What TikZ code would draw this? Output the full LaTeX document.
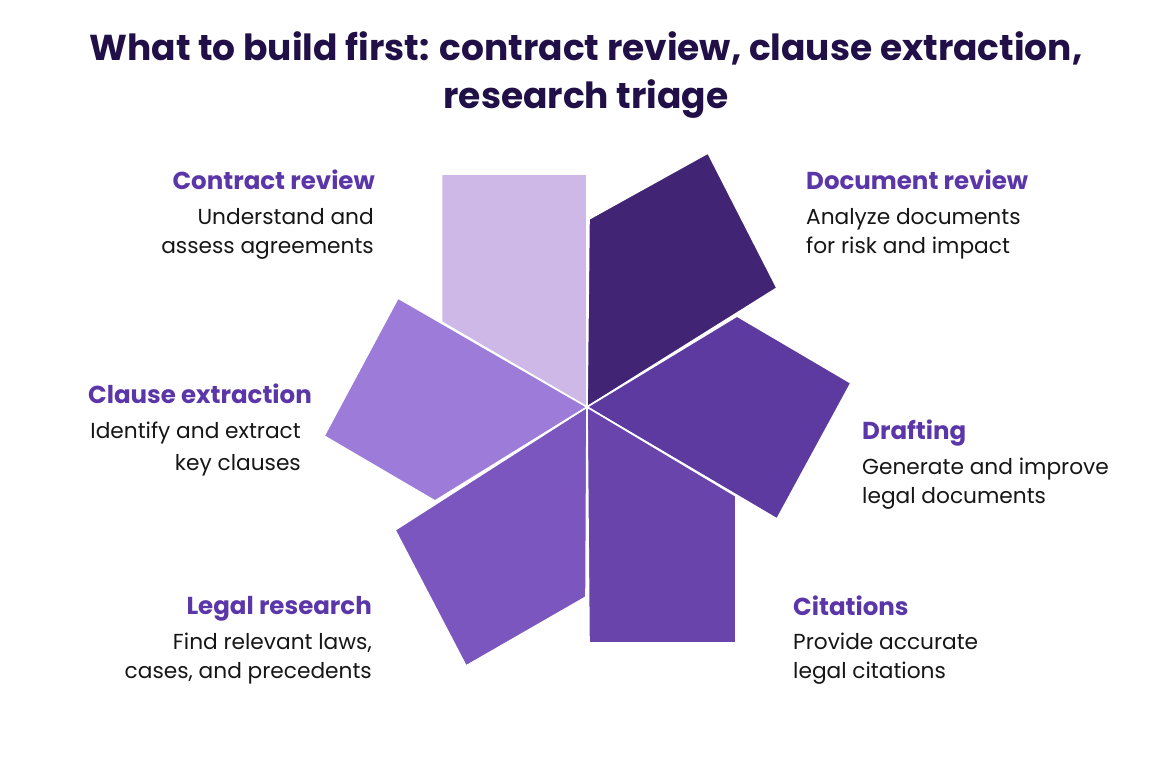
\documentclass[tikz,border=0pt]{standalone}
\usepackage{fontspec}
\setmainfont{Poppins}
\definecolor{titlec}{HTML}{211048}
\definecolor{headc}{HTML}{5B36A8}
\definecolor{bodyc}{HTML}{161616}
\definecolor{s1}{HTML}{CDB8E8}
\definecolor{s2}{HTML}{412574}
\definecolor{s3}{HTML}{5C3A9F}
\definecolor{s4}{HTML}{6944AB}
\definecolor{s5}{HTML}{7A56BE}
\definecolor{s6}{HTML}{9D7BD8}
\tikzset{
  petal/.style={draw=white, line width=1.6pt, line join=miter},
  ttl/.style={font=\fontsize{36}{42}\selectfont\bfseries, text=titlec, inner sep=0pt},
  head/.style={font=\fontsize{24.5}{29}\selectfont\bfseries, text=headc, inner sep=0pt},
  body/.style={font=\fontsize{21.7}{26}\selectfont, text=bodyc, inner sep=0pt}
}
\begin{document}
\begin{tikzpicture}[x=1pt,y=-1pt]
\useasboundingbox[fill=white] (0,0) rectangle (1165,776);
\coordinate (C) at (587,407);
% petals
\fill[s1,petal] (C) -- (587,174) -- (441.5,174) -- (441.5,322) -- cycle;
\fill[s2,petal] (C) -- (589,219) -- (708,153) -- (777,288) -- cycle;
\fill[s3,petal] (C) -- (737,316) -- (851,383) -- (777,519) -- cycle;
\fill[s4,petal] (C) -- (736,496) -- (736,643) -- (589,643) -- cycle;
\fill[s5,petal] (C) -- (586,597) -- (466,666) -- (395,530) -- cycle;
\fill[s6,petal] (C) -- (435,501) -- (324,436) -- (398,298) -- cycle;
% title
\node[ttl, anchor=base] (t1) at (586,60) {What to build first: contract review, clause extraction,};
\node[ttl, anchor=base] (t2) at (586,108) {research triage};
% contract review
\node[head, anchor=base east] (h1) at (375,189) {Contract review};
\node[body, anchor=base east] (b1a) at (374,224) {Understand and};
\node[body, anchor=base east] (b1b) at (374,253) {assess agreements};
% document review
\node[head, anchor=base west] (h2) at (806,189) {Document review};
\node[body, anchor=base west] (b2a) at (806,224) {Analyze documents};
\node[body, anchor=base west] (b2b) at (806,253) {for risk and impact};
% clause extraction
\node[head, anchor=base east] (h6) at (312,403) {Clause extraction};
\node[body, anchor=base east] (b6a) at (301,438) {Identify and extract};
\node[body, anchor=base east] (b6b) at (301,470) {key clauses};
% drafting
\node[head, anchor=base west] (h3) at (862,439) {Drafting};
\node[body, anchor=base west] (b3a) at (862,474) {Generate and improve};
\node[body, anchor=base west] (b3b) at (862,503) {legal documents};
% legal research
\node[head, anchor=base east] (h5) at (372,614) {Legal research};
\node[body, anchor=base east] (b5a) at (372,649) {Find relevant laws,};
\node[body, anchor=base east] (b5b) at (372,678) {cases, and precedents};
% citations
\node[head, anchor=base west] (h4) at (793,615) {Citations};
\node[body, anchor=base west] (b4a) at (793,649) {Provide accurate};
\node[body, anchor=base west] (b4b) at (793,678) {legal citations};
\end{tikzpicture}
\end{document}
